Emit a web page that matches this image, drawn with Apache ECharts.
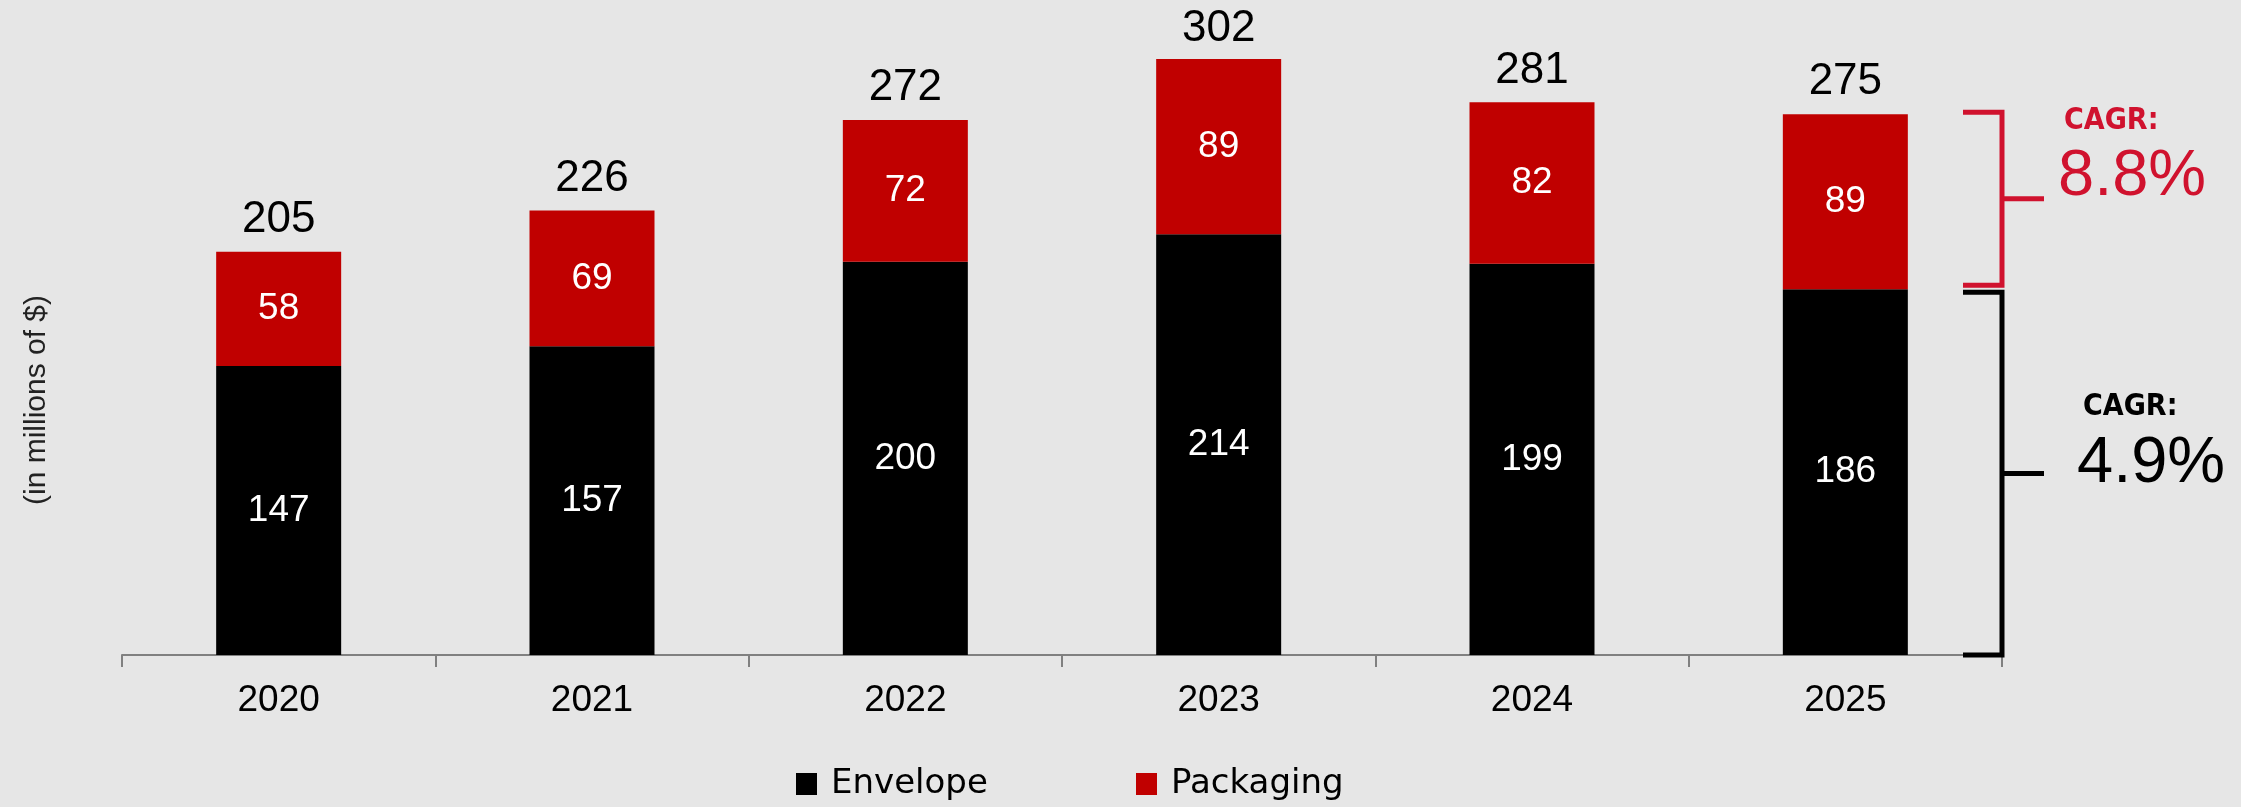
<!DOCTYPE html>
<html>
<head>
<meta charset="utf-8">
<title>Envelope and Packaging Revenue</title>
<script src="https://cdn.jsdelivr.net/npm/echarts@6/dist/echarts.min.js"></script>
<style>
  html, body { margin: 0; padding: 0; background: #E6E6E6; }
  #chart { width: 2241px; height: 807px; }
</style>
</head>
<body>
<div id="chart"></div>
<script>
// Revenue by segment, in millions of dollars
const years = ['2020', '2021', '2022', '2023', '2024', '2025'];
const envelope = [147, 157, 200, 214, 199, 186];
const packaging = [58, 69, 72, 89, 82, 89];
const totals = [205, 226, 272, 302, 281, 275];
const seriesNames = ['Envelope', 'Packaging'];
const packagingCagr = '8.8%';
const envelopeCagr = '4.9%';
const cagrLabel = 'CAGR:';
const unitLabel = '(in millions of $)';

const BLACK = '#000000';
const RED = '#C00000';
const CAGR_RED = '#D0122E';
const AXIS_GREY = '#808080';
const SANS = '"Liberation Sans", Arial, Helvetica, sans-serif';
const WIDE = '"DejaVu Sans", "Liberation Sans", sans-serif';
const NARROW = '"Liberation Sans Narrow", "Arial Narrow", "DejaVu Sans Condensed", sans-serif';

const chart = echarts.init(document.getElementById('chart'), null, { renderer: 'canvas' });

const legendBase = {
  orient: 'horizontal',
  top: 762,
  itemWidth: 21,
  itemHeight: 22,
  icon: 'rect',
  selectedMode: false,
  textStyle: { fontFamily: WIDE, fontSize: 34, color: BLACK, padding: [0, 0, 0, 9] }
};

chart.setOption({
  backgroundColor: '#E6E6E6',
  animation: false,
  grid: { left: 122, right: 239, top: 6, bottom: 152, containLabel: false },
  legend: [
    Object.assign({}, legendBase, { data: [seriesNames[0]], left: 791 }),
    Object.assign({}, legendBase, { data: [seriesNames[1]], left: 1131 })
  ],
  xAxis: {
    type: 'category',
    data: years,
    boundaryGap: true,
    axisLine: { show: true, lineStyle: { color: AXIS_GREY, width: 2 } },
    axisTick: { show: true, length: 12, lineStyle: { color: AXIS_GREY, width: 2 } },
    axisLabel: { fontFamily: SANS, fontSize: 37, color: BLACK, margin: 27 }
  },
  yAxis: {
    type: 'value',
    min: 0,
    max: 330,
    show: false,
    splitLine: { show: false }
  },
  series: [
    {
      name: seriesNames[0],
      type: 'bar',
      stack: 'revenue',
      barWidth: 125,
      data: envelope,
      itemStyle: { color: BLACK },
      label: { show: true, position: 'inside', color: '#FFFFFF', fontFamily: SANS, fontSize: 37 }
    },
    {
      name: seriesNames[1],
      type: 'bar',
      stack: 'revenue',
      barWidth: 125,
      data: packaging,
      itemStyle: { color: RED },
      label: { show: true, position: 'inside', color: '#FFFFFF', fontFamily: SANS, fontSize: 37 }
    },
    {
      // invisible total bars carry the total label above each stack
      name: 'Total',
      type: 'bar',
      barWidth: 125,
      barGap: '-100%',
      data: totals,
      silent: true,
      z: 1,
      itemStyle: { color: 'rgba(0,0,0,0)' },
      label: { show: true, position: 'top', distance: 10, color: BLACK, fontFamily: SANS, fontSize: 44 }
    }
  ]
});

// Brackets and CAGR call-outs beside the last bar, placed from its values
function drawAnnotations() {
  const last = years.length - 1;
  const px = (i, v) => chart.convertToPixel({ xAxisIndex: 0, yAxisIndex: 0 }, [i, v]);
  const band = px(1, 0)[0] - px(0, 0)[0];
  const axisEndX = px(last, 0)[0] + band / 2;
  const yTotal = px(last, totals[last])[1];
  const yEnv = px(last, envelope[last])[1];
  const yBase = px(last, 0)[1];

  const lw = 5;
  const armLeft = axisEndX - 39;
  const tickRight = axisEndX + 42;

  function bracket(top, bottom, color) {
    const mid = (top + bottom) / 2;
    return [
      { type: 'polyline', shape: { points: [[armLeft, top], [axisEndX, top], [axisEndX, bottom], [armLeft, bottom]] },
        style: { stroke: color, lineWidth: lw, fill: null, lineJoin: 'miter' }, z: 10 },
      { type: 'line', shape: { x1: axisEndX, y1: mid, x2: tickRight, y2: mid },
        style: { stroke: color, lineWidth: lw }, z: 10 }
    ];
  }

  const redTop = yTotal - 2;
  const redBottom = yEnv - 4;
  const blackTop = yEnv + 3;
  const blackBottom = yBase;
  const redMid = (redTop + redBottom) / 2;
  const blackMid = (blackTop + blackBottom) / 2;

  const elements = [].concat(
    bracket(redTop, redBottom, CAGR_RED),
    bracket(blackTop, blackBottom, BLACK),
    [
      { type: 'text', x: 2064, y: redMid - 77, z: 10,
        style: { text: cagrLabel, fill: CAGR_RED, font: 'bold 30px ' + NARROW, align: 'left', verticalAlign: 'middle' } },
      { type: 'text', x: 2058, y: redMid - 22, z: 10,
        style: { text: packagingCagr, fill: CAGR_RED, font: '65px ' + SANS, align: 'left', verticalAlign: 'middle' } },
      { type: 'text', x: 2083, y: blackMid - 66, z: 10,
        style: { text: cagrLabel, fill: BLACK, font: 'bold 30px ' + NARROW, align: 'left', verticalAlign: 'middle' } },
      { type: 'text', x: 2077, y: blackMid - 10, z: 10,
        style: { text: envelopeCagr, fill: BLACK, font: '65px ' + SANS, align: 'left', verticalAlign: 'middle' } },
      { type: 'text', x: 37, y: 400, rotation: Math.PI / 2, z: 10,
        style: { text: unitLabel, fill: '#222222', font: '30px ' + SANS, align: 'center', verticalAlign: 'middle' } }
    ]
  );

  chart.setOption({ graphic: elements });
}

drawAnnotations();
</script>
</body>
</html>
